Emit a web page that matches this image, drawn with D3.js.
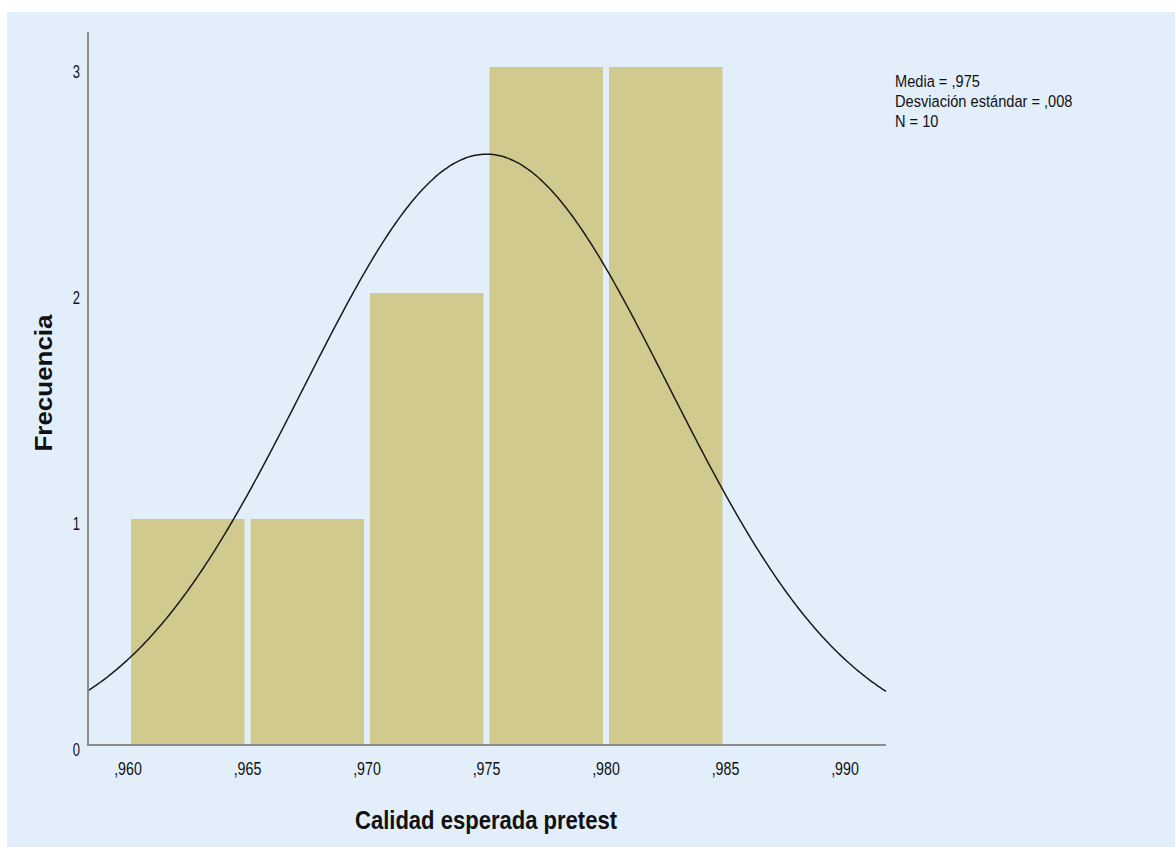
<!DOCTYPE html>
<html>
<head>
<meta charset="utf-8">
<script src="https://cdn.jsdelivr.net/npm/d3@7"></script>
<style>
  html, body { margin: 0; padding: 0; background: #ffffff; }
  svg { display: block; }
  text { font-family: "Liberation Sans", Arial, sans-serif; fill: #111; }
</style>
</head>
<body>
<svg id="chart" width="1175" height="847"></svg>
<script>
// Histogram bins (lower edge, upper edge) and their frequencies
const binStarts = [0.960, 0.965, 0.970, 0.975, 0.980];
const binWidth = 0.005;
const counts = [1, 1, 2, 3, 3];

// Summary statistics shown in the corner and used for the normal curve
const mean = 0.975;
const stdDev = 0.00763;
const n = 10;

// Axis ticks
const xTicks = [0.960, 0.965, 0.970, 0.975, 0.980, 0.985, 0.990];
const yTicks = [0, 1, 2, 3];

const xTitle = "Calidad esperada pretest";
const yTitle = "Frecuencia";

const svg = d3.select("#chart");

// Panel background
svg.append("rect")
  .attr("x", 7).attr("y", 12)
  .attr("width", 1168).attr("height", 835)
  .attr("fill", "#e2eefa");

const x = d3.scaleLinear().domain([0.960, 0.985]).range([128, 725.5]);
const y = d3.scaleLinear().domain([0, 3]).range([745, 67]);

const xLeft = 88, xRight = 886;
const yTop = 32;

// Bars
svg.append("g").selectAll("rect")
  .data(binStarts.map((s, i) => ({ x0: s, x1: s + binWidth, c: counts[i] })))
  .join("rect")
  .attr("x", d => x(d.x0) + 3)
  .attr("y", d => y(d.c))
  .attr("width", d => x(d.x1) - x(d.x0) - 6)
  .attr("height", d => y(0) - y(d.c))
  .attr("fill", "#d1ca8f");

// Normal curve scaled to counts
const dom0 = x.invert(xLeft), dom1 = x.invert(xRight);
const scaleK = n * binWidth / (stdDev * Math.sqrt(2 * Math.PI));
const curvePts = d3.range(0, 401).map(i => {
  const v = dom0 + (dom1 - dom0) * i / 400;
  const z = (v - mean) / stdDev;
  return [v, scaleK * Math.exp(-0.5 * z * z)];
});
svg.append("path")
  .datum(curvePts)
  .attr("fill", "none")
  .attr("stroke", "#1a1a1a")
  .attr("stroke-width", 1.5)
  .attr("d", d3.line().x(d => x(d[0])).y(d => y(d[1])).curve(d3.curveBasis));

// Axis lines
svg.append("line")
  .attr("x1", xLeft).attr("x2", xLeft)
  .attr("y1", yTop).attr("y2", y(0))
  .attr("stroke", "#8c8c8c").attr("stroke-width", 2);
svg.append("line")
  .attr("x1", xLeft - 1).attr("x2", xRight)
  .attr("y1", y(0)).attr("y2", y(0))
  .attr("stroke", "#8c8c8c").attr("stroke-width", 2);

// Helper: horizontally condensed text
function condText(g, str, px, py, size, sx, anchor, weight) {
  return g.append("text")
    .attr("transform", `translate(${px},${py}) scale(${sx},1)`)
    .attr("text-anchor", anchor)
    .style("font-size", size + "px")
    .style("font-weight", weight || "normal")
    .text(str);
}

const fmtTick = v => "," + d3.format(".3f")(v).split(".")[1];

// X tick labels
const gx = svg.append("g");
xTicks.forEach(v => condText(gx, fmtTick(v), x(v), 775, 18, 0.79, "middle"));

// Y tick labels
const gy = svg.append("g");
yTicks.forEach(v => condText(gy, String(v), 80, y(v) + 11, 18, 0.72, "end"));

// Axis titles
svg.append("text")
  .attr("x", 486).attr("y", 829)
  .attr("text-anchor", "middle")
  .attr("textLength", 262).attr("lengthAdjust", "spacingAndGlyphs")
  .style("font-size", "25px").style("font-weight", "bold")
  .text(xTitle);

svg.append("text")
  .attr("transform", "translate(52,383) rotate(-90)")
  .attr("text-anchor", "middle")
  .attr("textLength", 137).attr("lengthAdjust", "spacingAndGlyphs")
  .style("font-size", "23px").style("font-weight", "bold")
  .text(yTitle);

// Statistics box
const fmt3 = v => "," + d3.format(".3f")(v).split(".")[1];
const statLines = [
  "Media = " + fmt3(mean),
  "Desviación estándar = " + fmt3(stdDev),
  "N = " + n
];
const gs = svg.append("g");
statLines.forEach((s, i) => condText(gs, s, 895, 86.5 + i * 20, 17, 0.86, "start"));
</script>
</body>
</html>
